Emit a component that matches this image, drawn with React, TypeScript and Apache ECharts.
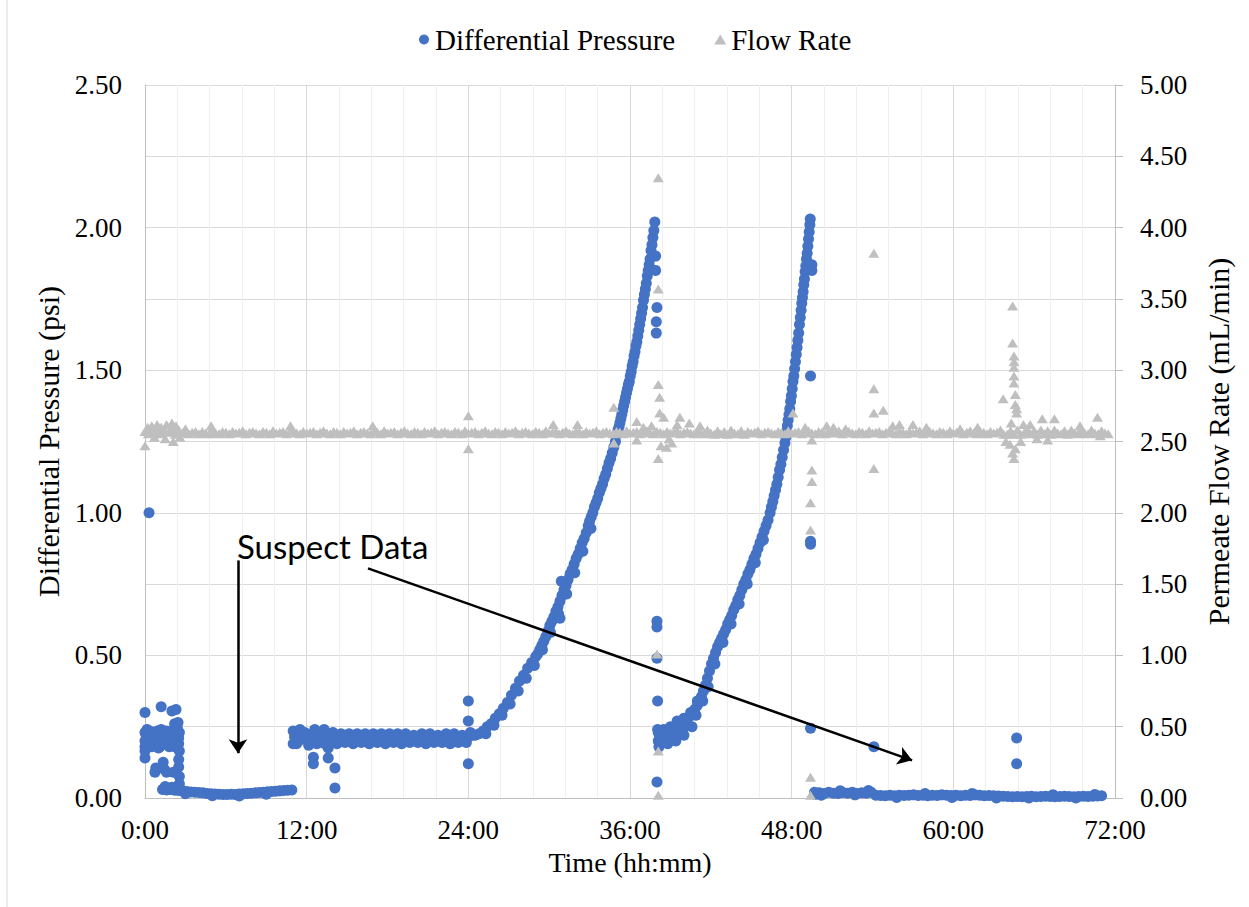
import React, { useEffect, useRef } from 'react';
import * as echarts from 'echarts';

// ---------- DATA (hours, value) ----------
const xTickHours = [0, 12, 24, 36, 48, 60, 72];

// Differential Pressure (psi), left axis
const dpStart: number[][] = [
  [0.0, 0.30], [0.3, 1.00], [1.2, 0.32], [2.0, 0.305], [2.3, 0.31],
  [0.0, 0.23], [0.0, 0.2], [0.0, 0.18], [0.0, 0.14], [0.1, 0.215], [0.15, 0.24],
  [0.2, 0.22], [0.2, 0.19], [0.35, 0.235], [0.4, 0.205], [0.5, 0.18], [0.5, 0.22], [0.6, 0.225], [0.7, 0.2],
  [0.8, 0.215], [0.8, 0.185], [0.9, 0.235], [1.0, 0.2], [1.0, 0.175], [1.1, 0.22], [1.1, 0.18], [1.2, 0.24],
  [1.3, 0.205], [1.4, 0.19], [1.5, 0.225], [1.6, 0.2], [1.6, 0.235], [1.7, 0.215], [1.8, 0.18], [1.9, 0.21],
  [2.0, 0.235], [2.0, 0.195], [2.1, 0.215], [2.2, 0.26], [2.2, 0.18], [2.3, 0.2], [2.4, 0.225],
  [2.4, 0.245], [2.5, 0.19], [2.5, 0.21], [2.55, 0.165], [2.45, 0.265], [2.55, 0.23],
  [0.74, 0.09], [0.8, 0.105], [1.35, 0.125], [1.45, 0.10], [1.6, 0.09], [2.1, 0.09],
  [2.5, 0.109], [2.55, 0.075], [2.55, 0.05], [2.5, 0.135], [0.0, 0.165]
];
const dpLow1: number[][] = [
  [1.3, 0.03], [1.5, 0.04], [1.6, 0.028], [1.9, 0.03], [2.0, 0.038], [2.2, 0.027], [2.4, 0.035],
  [2.5, 0.026], [2.8, 0.025], [3.1, 0.023], [3.4, 0.021], [3.7, 0.02], [4.0, 0.019], [4.3, 0.018],
  [4.6, 0.016], [4.9, 0.015], [5.2, 0.014], [5.5, 0.013], [5.8, 0.012], [6.1, 0.012], [6.4, 0.013],
  [6.7, 0.012], [7.0, 0.014], [7.3, 0.015], [7.6, 0.016], [7.9, 0.017], [8.2, 0.018], [8.5, 0.019],
  [8.8, 0.02], [9.1, 0.022], [9.4, 0.023], [9.7, 0.024], [10.0, 0.025], [10.3, 0.026], [10.6, 0.027],
  [10.9, 0.028], [3.0, 0.015], [5.0, 0.008], [7.0, 0.007], [9.0, 0.013]
];
const dpPlateau: number[][] = [
  [11.0, 0.235], [11.0, 0.19], [11.1, 0.215], [11.4, 0.2], [11.5, 0.24], [11.7, 0.22], [12.0, 0.205],
  [12.3, 0.215], [12.6, 0.2], [12.6, 0.24], [12.9, 0.22], [13.2, 0.21], [13.3, 0.24], [13.5, 0.225],
  [13.6, 0.175], [13.8, 0.205], [14.1, 0.215], [14.4, 0.2], [14.7, 0.21], [15.0, 0.2], [15.3, 0.215],
  [15.6, 0.205], [15.9, 0.21], [16.2, 0.2], [16.5, 0.215], [16.8, 0.205], [17.1, 0.21], [17.4, 0.2],
  [17.7, 0.215], [18.0, 0.21], [18.3, 0.2], [18.6, 0.215], [18.9, 0.205], [19.2, 0.21], [19.5, 0.2],
  [19.8, 0.215], [20.1, 0.21], [20.4, 0.205], [20.7, 0.215], [21.0, 0.2], [21.3, 0.21], [21.6, 0.205],
  [21.9, 0.215], [22.2, 0.2], [22.5, 0.21], [22.8, 0.205], [23.1, 0.215], [23.4, 0.205], [23.7, 0.21],
  [24.0, 0.215], [24.3, 0.22],
  [11.25, 0.19], [11.85, 0.23], [12.15, 0.185], [12.45, 0.225], [12.75, 0.19], [13.05, 0.23], [13.35, 0.19],
  [13.95, 0.23], [14.25, 0.19], [14.55, 0.225], [14.85, 0.195], [15.15, 0.225], [15.45, 0.19], [15.75, 0.225],
  [16.05, 0.195], [16.35, 0.225], [16.65, 0.19], [16.95, 0.225], [17.25, 0.195], [17.55, 0.225], [17.85, 0.19],
  [18.15, 0.225], [18.45, 0.195], [18.75, 0.225], [19.05, 0.19], [19.35, 0.225], [19.65, 0.195], [19.95, 0.22],
  [20.25, 0.195], [20.55, 0.225], [20.85, 0.19], [21.15, 0.225], [21.45, 0.195], [21.75, 0.22], [22.05, 0.195],
  [22.35, 0.225], [22.65, 0.19], [22.95, 0.225], [23.25, 0.195], [23.55, 0.22], [23.85, 0.195], [24.15, 0.23]
];
const dpRise1: number[][] = [
  [24.5, 0.22], [24.8, 0.225], [25.1, 0.235], [25.4, 0.25], [25.7, 0.26], [26.0, 0.28], [26.3, 0.295],
  [26.6, 0.315], [26.9, 0.335], [27.2, 0.36], [27.5, 0.385], [27.8, 0.41], [28.1, 0.43], [28.4, 0.455],
  [28.7, 0.475], [29.0, 0.495], [29.15, 0.505], [29.3, 0.52], [29.45, 0.535], [29.6, 0.55], [29.75, 0.565],
  [29.9, 0.585], [30.05, 0.605], [30.2, 0.62], [30.35, 0.635], [30.5, 0.655], [30.65, 0.67], [30.8, 0.69],
  [30.95, 0.71], [31.1, 0.73], [31.25, 0.745], [31.4, 0.765], [31.55, 0.785], [31.7, 0.8], [31.85, 0.82],
  [32.0, 0.84], [32.15, 0.855], [32.3, 0.875], [32.45, 0.895], [32.6, 0.91], [32.75, 0.93], [32.9, 0.955],
  [33.0, 0.97], [33.12, 0.985], [33.24, 1.0], [33.36, 1.02], [33.48, 1.035], [33.6, 1.05], [33.72, 1.07],
  [33.84, 1.085], [33.96, 1.1], [34.08, 1.12], [34.2, 1.135], [34.32, 1.155], [34.44, 1.175], [34.56, 1.19],
  [34.68, 1.21], [34.8, 1.23], [34.92, 1.25], [35.04, 1.275], [35.11, 1.29], [35.18, 1.3], [35.25, 1.315],
  [35.32, 1.33], [35.39, 1.345], [35.46, 1.36], [35.53, 1.375], [35.6, 1.39], [35.67, 1.405], [35.74, 1.42],
  [35.81, 1.435], [35.88, 1.45], [35.95, 1.46], [36.02, 1.48], [36.09, 1.495], [36.16, 1.515], [36.23, 1.53],
  [36.3, 1.55], [36.37, 1.565], [36.44, 1.585], [36.51, 1.6], [36.58, 1.62], [36.65, 1.64], [36.72, 1.66],
  [36.79, 1.68], [36.86, 1.7], [36.93, 1.72], [37.0, 1.745], [37.07, 1.765], [37.14, 1.785], [37.21, 1.805],
  [37.28, 1.83], [37.35, 1.85], [37.42, 1.87], [37.49, 1.89], [37.56, 1.92], [37.63, 1.94], [37.7, 1.965],
  [37.77, 1.99], [37.84, 2.02], [30.9, 0.76], [30.8, 0.63],
  [25.3, 0.225], [25.9, 0.255], [26.5, 0.29], [27.1, 0.33], [27.7, 0.375], [28.3, 0.42], [28.9, 0.465],
  [29.5, 0.52], [30.1, 0.58], [30.7, 0.645], [31.3, 0.715], [31.9, 0.79], [32.5, 0.865], [33.1, 0.945]
];
const dpRise2: number[][] = [
  [38.1, 0.23], [38.1, 0.2], [38.15, 0.18], [38.2, 0.215], [38.3, 0.195], [38.45, 0.2], [38.5, 0.24],
  [38.6, 0.205], [38.8, 0.21], [38.8, 0.19], [39.0, 0.22], [39.0, 0.25], [39.2, 0.23], [39.4, 0.24],
  [39.4, 0.2], [39.5, 0.27], [39.6, 0.25], [39.8, 0.26], [40.0, 0.265], [40.0, 0.28], [40.0, 0.22],
  [40.2, 0.275], [40.4, 0.285], [40.5, 0.3], [40.6, 0.295], [40.6, 0.25], [40.8, 0.31], [41.0, 0.325],
  [41.0, 0.34], [41.15, 0.34], [41.3, 0.355], [41.45, 0.375], [41.6, 0.395], [41.75, 0.42], [41.9, 0.445],
  [42.05, 0.47], [42.2, 0.49], [42.35, 0.51], [42.5, 0.53], [42.65, 0.545], [42.8, 0.56], [42.95, 0.575],
  [43.1, 0.59], [43.25, 0.61], [43.4, 0.625], [43.55, 0.64], [43.7, 0.66], [43.85, 0.675], [44.0, 0.695],
  [44.15, 0.71], [44.3, 0.73], [44.45, 0.75], [44.6, 0.765], [44.75, 0.785], [44.9, 0.8], [45.05, 0.82],
  [45.2, 0.84], [45.35, 0.855], [45.5, 0.875], [45.65, 0.895], [45.8, 0.915], [45.95, 0.935], [46.1, 0.955],
  [46.25, 0.975], [46.4, 1.0], [46.5, 1.02], [46.6, 1.04], [46.7, 1.06], [46.8, 1.08], [46.9, 1.1],
  [47.0, 1.125], [47.1, 1.15], [47.2, 1.17], [47.3, 1.195], [47.4, 1.22], [47.5, 1.245], [47.56, 1.265],
  [47.62, 1.285], [47.68, 1.305], [47.74, 1.325], [47.8, 1.345], [47.86, 1.365], [47.92, 1.39], [47.98, 1.41],
  [48.04, 1.435], [48.1, 1.46], [48.16, 1.48], [48.22, 1.505], [48.28, 1.53], [48.34, 1.555], [48.4, 1.58],
  [48.46, 1.605], [48.52, 1.63], [48.58, 1.66], [48.64, 1.685], [48.7, 1.71], [48.75, 1.735], [48.8, 1.755],
  [48.85, 1.775], [48.9, 1.8], [48.95, 1.82], [49.0, 1.845], [49.05, 1.865], [49.1, 1.89], [49.15, 1.91],
  [49.2, 1.935], [49.25, 1.96], [49.3, 1.985], [49.35, 2.01], [49.38, 2.03],
  [39.3, 0.215], [39.9, 0.24], [40.3, 0.255], [40.9, 0.29], [41.4, 0.34], [41.8, 0.39], [42.3, 0.47],
  [42.9, 0.545], [43.5, 0.61], [44.1, 0.68], [44.7, 0.75], [45.3, 0.825], [45.9, 0.905]
];
const dpLow2: number[][] = [
  [49.7, 0.02], [49.75, 0.012], [50.05, 0.018], [50.4, 0.016], [50.75, 0.02], [51.1, 0.017], [51.45, 0.016],
  [51.8, 0.019], [52.15, 0.017], [52.5, 0.02], [52.85, 0.016], [53.2, 0.018], [53.55, 0.017], [53.9, 0.02],
  [54.25, 0.01], [54.6, 0.009], [54.95, 0.008], [55.3, 0.01], [55.65, 0.008], [56.0, 0.01], [56.35, 0.009],
  [56.7, 0.01], [57.05, 0.011], [57.4, 0.009], [57.75, 0.01], [58.1, 0.008], [58.45, 0.01], [58.8, 0.009],
  [59.15, 0.011], [59.5, 0.01], [59.85, 0.009], [60.2, 0.01], [60.55, 0.008], [60.9, 0.01], [61.25, 0.009],
  [61.6, 0.011], [61.95, 0.01], [62.3, 0.008], [62.65, 0.009], [63.0, 0.008], [63.35, 0.007], [63.7, 0.006],
  [64.05, 0.005], [64.4, 0.004], [64.75, 0.005], [65.1, 0.004], [65.45, 0.005], [65.8, 0.006], [66.15, 0.004],
  [66.5, 0.005], [66.85, 0.006], [67.2, 0.005], [67.55, 0.004], [67.9, 0.005], [68.25, 0.006], [68.6, 0.005],
  [68.95, 0.004], [69.3, 0.005], [69.65, 0.006], [70.0, 0.005], [70.35, 0.006], [70.7, 0.007], [71.0, 0.008],
  [50.2, 0.01], [51.6, 0.025], [52.7, 0.011], [53.7, 0.026], [55.8, 0.002], [57.9, 0.016], [59.9, 0.002],
  [61.4, 0.016], [63.2, 0.0], [65.6, 0.0], [67.4, 0.011], [69.1, 0.0], [70.5, 0.012]
];
const dpOutliers: number[][] = [
  [12.5, 0.143], [12.5, 0.12], [13.6, 0.14], [14.1, 0.105], [14.1, 0.035],
  [24.0, 0.34], [24.0, 0.27], [24.0, 0.12],
  [37.9, 1.90], [37.9, 1.85], [38.0, 1.72], [37.95, 1.67], [37.95, 1.63],
  [38.0, 0.62], [38.0, 0.60], [38.0, 0.49], [38.05, 0.34], [38.0, 0.056], [38.05, 0.24],
  [49.5, 1.87], [49.5, 1.85], [49.4, 1.48], [49.4, 0.90], [49.4, 0.89], [49.4, 0.245],
  [54.1, 0.18], [64.7, 0.21], [64.7, 0.12]
];

// Flow Rate (mL/min), right axis: baseline sampled every 15 min (one row per 12 h)
const flowBaseStep = 0.25;
const flowBaseValues: number[] = [
  2.57, 2.555, 2.575, 2.56, 2.58, 2.555, 2.575, 2.565, 2.585, 2.55, 2.58, 2.56, 2.575, 2.555, 2.565, 2.57, 2.555, 2.57, 2.56, 2.555, 2.575, 2.56, 2.555, 2.57,
  2.565, 2.555, 2.57, 2.56, 2.565, 2.575, 2.555, 2.565, 2.57, 2.56, 2.555, 2.57, 2.565, 2.555, 2.575, 2.56, 2.565, 2.57, 2.555, 2.565, 2.575, 2.56, 2.555, 2.57,
  2.56, 2.565, 2.57, 2.555, 2.565, 2.575, 2.56, 2.555, 2.57, 2.565, 2.555, 2.57, 2.56, 2.565, 2.575, 2.555, 2.565, 2.57, 2.56, 2.555, 2.57, 2.565, 2.555, 2.575,
  2.56, 2.565, 2.57, 2.555, 2.565, 2.575, 2.56, 2.555, 2.57, 2.565, 2.555, 2.57, 2.56, 2.565, 2.575, 2.555, 2.565, 2.57, 2.56, 2.555, 2.57, 2.565, 2.555, 2.575,
  2.56, 2.565, 2.57, 2.555, 2.565, 2.575, 2.56, 2.555, 2.57, 2.565, 2.555, 2.57, 2.56, 2.565, 2.575, 2.555, 2.565, 2.57, 2.56, 2.555, 2.57, 2.565, 2.555, 2.575,
  2.56, 2.565, 2.57, 2.555, 2.565, 2.575, 2.56, 2.555, 2.57, 2.565, 2.555, 2.57, 2.56, 2.565, 2.575, 2.555, 2.565, 2.57, 2.56, 2.555, 2.57, 2.565, 2.555, 2.575,
  2.56, 2.565, 2.57, 2.555, 2.565, 2.575, 2.56, 2.555, 2.57, 2.565, 2.555, 2.57, 2.56, 2.565, 2.575, 2.555, 2.565, 2.57, 2.56, 2.555, 2.57, 2.565, 2.555, 2.58,
  2.56, 2.55, 2.575, 2.555, 2.57, 2.55, 2.58, 2.56, 2.555, 2.575, 2.55, 2.57, 2.56, 2.565, 2.575, 2.555, 2.565, 2.57, 2.56, 2.555, 2.57, 2.565, 2.555, 2.575,
  2.56, 2.565, 2.57, 2.555, 2.565, 2.575, 2.56, 2.555, 2.57, 2.565, 2.555, 2.57, 2.56, 2.565, 2.575, 2.555, 2.565, 2.57, 2.56, 2.555, 2.57, 2.565, 2.555, 2.575,
  2.56, 2.565, 2.57, 2.555, 2.565, 2.575, 2.56, 2.555, 2.57, 2.565, 2.555, 2.57, 2.56, 2.565, 2.575, 2.555, 2.565, 2.57, 2.56, 2.555, 2.57, 2.565, 2.555, 2.575,
  2.56, 2.565, 2.57, 2.555, 2.565, 2.575, 2.56, 2.555, 2.57, 2.565, 2.555, 2.57, 2.56, 2.565, 2.58, 2.55, 2.55, 2.575, 2.55, 2.58, 2.55, 2.56, 2.58, 2.555,
  2.575, 2.55, 2.58, 2.555, 2.575, 2.55, 2.58, 2.56, 2.555, 2.575, 2.55, 2.58, 2.56, 2.555, 2.575, 2.56, 2.555, 2.58, 2.56, 2.555, 2.575, 2.56, 2.555
];
const flowSpikes: number[][] = [
  [0.0, 2.47], [0.2, 2.60], [0.5, 2.61], [0.9, 2.62], [1.2, 2.60], [1.6, 2.62], [2.0, 2.63], [2.3, 2.61],
  [2.1, 2.50], [0.7, 2.53], [1.5, 2.52], [2.6, 2.53], [3.0, 2.59], [4.9, 2.61], [10.8, 2.61], [16.9, 2.61],
  [24.0, 2.68], [24.0, 2.45], [30.3, 2.62], [32.1, 2.62], [34.8, 2.74], [34.8, 2.49],
  [36.5, 2.64], [36.5, 2.51], [37.0, 2.60], [37.6, 2.61],
  [38.1, 4.35], [38.1, 3.57], [38.1, 2.90], [38.2, 2.81], [38.2, 2.70], [38.5, 2.67], [38.3, 2.47],
  [38.1, 2.38], [38.7, 2.46], [38.9, 2.52], [39.1, 2.49], [39.5, 2.62], [39.7, 2.67], [40.4, 2.63],
  [41.2, 2.61], [38.0, 1.01], [38.1, 0.33], [38.1, 0.02],
  [48.1, 2.70], [49.5, 2.51], [49.5, 2.30], [49.5, 2.22], [49.4, 2.07], [49.4, 1.88], [49.4, 0.145],
  [49.4, 0.02], [50.6, 2.61], [51.1, 2.60], [52.0, 2.59], [49.0, 2.60],
  [54.1, 3.82], [54.1, 2.87], [54.1, 2.70], [54.8, 2.72], [54.1, 2.31], [55.5, 2.61], [56.0, 2.62],
  [57.0, 2.62], [58.0, 2.60], [60.5, 2.59], [61.8, 2.60],
  [63.7, 2.80], [64.4, 3.45], [64.4, 3.19], [64.5, 3.10], [64.5, 3.06], [64.5, 3.02], [64.5, 2.96],
  [64.5, 2.91], [64.6, 2.83], [64.6, 2.76], [64.7, 2.73], [64.7, 2.70], [64.3, 2.63], [64.4, 2.42],
  [64.5, 2.38], [64.6, 2.45], [64.2, 2.48], [63.9, 2.50], [65.0, 2.50], [65.2, 2.62], [65.7, 2.62],
  [66.6, 2.66], [67.5, 2.66], [66.2, 2.52], [67.0, 2.51], [69.4, 2.61], [70.7, 2.67], [70.9, 2.54]
];

// ---------- STYLE ----------
const FONT = 'Liberation Serif';
const NOTE_FONT = 'Lato';
const BLUE = '#4472C4';
const GREY = '#BFBFBF';

export default function App() {
  const ref = useRef<HTMLDivElement>(null);
  useEffect(() => {
    const chart = echarts.init(ref.current!, null, { renderer: 'svg' });
    const fmt2 = (v: number) => v.toFixed(2);
    const flowBase = flowBaseValues.map((v, i) => [i * flowBaseStep, v]);
    chart.setOption({
      animation: false,
      backgroundColor: '#ffffff',
      legend: {
        top: 20,
        left: 414,
        itemGap: 39,
        itemWidth: 12,
        itemHeight: 10,
        textStyle: { fontSize: 29, color: '#000', fontFamily: FONT },
        data: [
          { name: 'Differential Pressure', icon: 'circle' },
          { name: 'Flow Rate', icon: 'triangle' }
        ]
      },
      grid: { left: 145, right: 134, top: 85, bottom: 109 },
      xAxis: {
        type: 'value',
        min: xTickHours[0],
        max: xTickHours[xTickHours.length - 1],
        interval: 12,
        name: 'Time (hh:mm)',
        nameLocation: 'middle',
        nameGap: 50,
        nameTextStyle: { fontSize: 28, color: '#000', fontFamily: FONT },
        axisLine: { show: true, lineStyle: { color: '#BFBFBF', width: 1 } },
        axisTick: { show: false },
        axisLabel: {
          fontSize: 27, color: '#000', fontFamily: FONT, margin: 18,
          formatter: (v: number) => `${v}:00`
        },
        splitLine: { show: true, lineStyle: { color: '#D9D9D9', width: 1 } },
        minorTick: { show: false, splitNumber: 5 },
        minorSplitLine: { show: true, lineStyle: { color: '#F0F0F0', width: 1 } }
      },
      yAxis: [
        {
          type: 'value',
          min: 0,
          max: 2.5,
          interval: 0.5,
          position: 'left',
          name: 'Differential Pressure (psi)',
          nameLocation: 'middle',
          nameGap: 82,
          nameTextStyle: { fontSize: 30, color: '#000', fontFamily: FONT },
          axisLine: { show: true, lineStyle: { color: '#BFBFBF', width: 1 } },
          axisTick: { show: false },
          axisLabel: { fontSize: 27, color: '#000', fontFamily: FONT, margin: 23, formatter: fmt2 },
          splitLine: { show: false }
        },
        {
          type: 'value',
          min: 0,
          max: 5,
          interval: 0.5,
          position: 'right',
          name: 'Permeate Flow Rate (mL/min)',
          nameLocation: 'middle',
          nameGap: 88,
          nameTextStyle: { fontSize: 30, color: '#000', fontFamily: FONT },
          axisLine: { show: true, lineStyle: { color: '#BFBFBF', width: 1 } },
          axisTick: { show: true, length: 8, lineStyle: { color: '#BFBFBF' } },
          axisLabel: { fontSize: 27, color: '#000', fontFamily: FONT, margin: 25, formatter: fmt2 },
          splitLine: { show: true, lineStyle: { color: '#D9D9D9', width: 1 } }
        }
      ],
      series: [
        {
          name: 'Differential Pressure',
          type: 'scatter',
          yAxisIndex: 0,
          symbol: 'circle',
          symbolSize: 11,
          itemStyle: { color: BLUE, opacity: 1 },
          z: 2,
          data: [...dpStart, ...dpLow1, ...dpPlateau, ...dpRise1, ...dpRise2, ...dpLow2, ...dpOutliers],
          markLine: {
            silent: true,
            symbol: ['none', 'arrow'],
            symbolSize: 14,
            label: { show: false },
            emphasis: { disabled: true },
            lineStyle: { color: '#000', width: 2.5, type: 'solid' },
            data: [
              [{ coord: [6.9, 0.833] }, { coord: [6.9, 0.157] }],
              [{ coord: [16.55, 0.805] }, { coord: [56.94, 0.132] }]
            ]
          }
        },
        {
          name: 'Flow Rate',
          type: 'scatter',
          yAxisIndex: 1,
          symbol: 'triangle',
          symbolSize: [11, 9],
          itemStyle: { color: GREY, opacity: 1 },
          z: 3,
          data: [...flowBase, ...flowSpikes]
        }
      ],
      graphic: [
        {
          type: 'line',
          shape: { x1: 7, y1: 0, x2: 7, y2: 907 },
          style: { stroke: '#D9D9D9', lineWidth: 1 },
          silent: true
        },
        {
          type: 'text',
          left: 237,
          top: 529,
          style: { text: 'Suspect Data', fontSize: 33, fontFamily: NOTE_FONT, fill: '#000' },
          z: 10
        }
      ]
    });
    return () => chart.dispose();
  }, []);
  return (
    <div
      ref={ref}
      style={{ position: 'fixed', left: 0, top: 0, width: 1249, height: 907, background: '#fff' }}
    />
  );
}
